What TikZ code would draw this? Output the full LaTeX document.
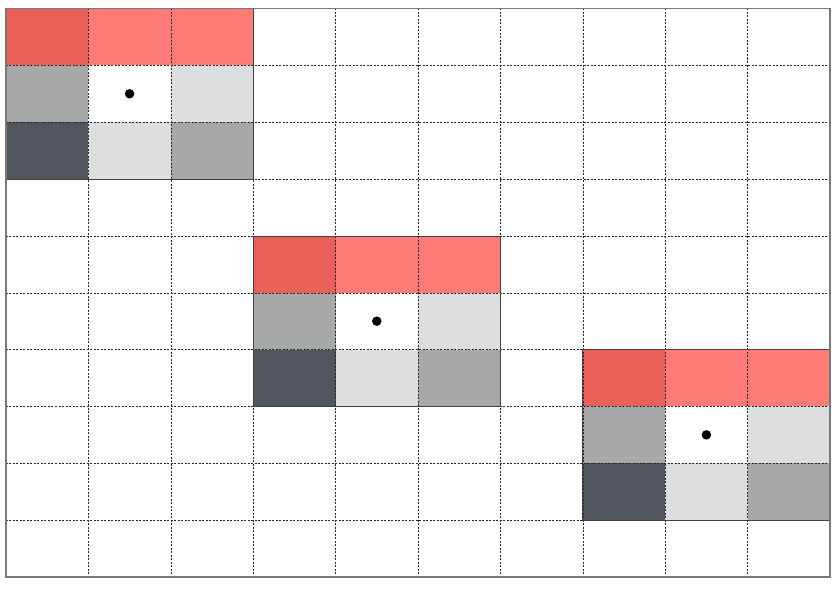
\documentclass[tikz,border=0pt]{standalone}
\definecolor{rdark}{RGB}{233,95,89}
\definecolor{rlight}{RGB}{255,123,119}
\definecolor{gmid}{RGB}{166,169,167}
\definecolor{glight}{RGB}{221,222,224}
\definecolor{gdark}{RGB}{82,86,94}
\definecolor{framegray}{RGB}{120,120,120}
\begin{document}
\begin{tikzpicture}[x=82.4bp,y=-56.85bp,
  gridline/.style={black!85, line width=0.5bp, dash pattern=on 2bp off 1.5bp},
  blockline/.style={draw=black!75, line width=0.8bp},
  frameline/.style={draw=framegray, line width=1.2bp},
  dot/.style={circle, fill=black, inner sep=0pt, minimum size=9.5bp}]
\useasboundingbox (-0.0728,-0.1495) rectangle (10.0485,10.1935);
\foreach \bx/\by in {0/0,3/4,7/6} {
  \fill[rdark] (\bx,\by) rectangle ++(1,1);
  \fill[rlight] (\bx+1,\by) rectangle ++(2,1);
  \fill[gmid] (\bx,\by+1) rectangle ++(1,1);
  \fill[glight] (\bx+2,\by+1) rectangle ++(1,1);
  \fill[gdark] (\bx,\by+2) rectangle ++(1,1);
  \fill[glight] (\bx+1,\by+2) rectangle ++(1,1);
  \fill[gmid] (\bx+2,\by+2) rectangle ++(1,1);
}
\foreach \i in {1,...,9} {
  \draw[gridline] (\i,0) -- (\i,10);
  \draw[gridline] (0,\i) -- (10,\i);
}
\foreach \bx/\by/\n in {0/0/a,3/4/b,7/6/c} {
  \draw[blockline] (\bx,\by) rectangle ++(3,3);
  \node[dot] (dot\n) at (\bx+1.5,\by+1.5) {};
}
\draw[frameline] (0,0) rectangle (10,10);
\end{tikzpicture}
\end{document}
